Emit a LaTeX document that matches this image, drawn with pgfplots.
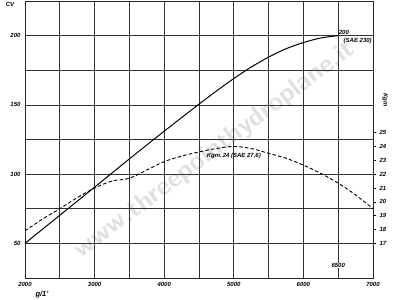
\documentclass[border=0pt]{standalone}
\usepackage{fontspec}
\setmainfont{Liberation Sans}
\usepackage{pgfplots}
\pgfplotsset{compat=1.18}
\begin{document}
\begin{tikzpicture}[x=1pt,y=1pt,font=\fontsize{6}{7}\selectfont\bfseries\itshape]
\path[use as bounding box] (0,0) rectangle (400,300);
\node[rotate=37, text=black!22, opacity=0.55, font=\fontsize{26}{28}\selectfont\bfseries\sffamily] at (215,150) {www.threepointhydroplane.it};
\begin{axis}[
  at={(25pt,22pt)}, anchor=south west,
  scale only axis, width=348pt, height=277pt,
  xmin=2000, xmax=7000, ymin=25, ymax=225,
  xtick={2000,2500,...,7000},
  xticklabels={2000,,3000,,4000,,5000,,6000,,7000},
  ytick={25,50,...,225},
  yticklabels={,50,,100,,150,,200,},
  grid=major,
  major grid style={black!80, line width=0.65pt},
  axis line style={black!85, line width=0.8pt},
  major tick length=0pt,
  /pgf/number format/assume math mode=true,
  xticklabel style={yshift=-1pt},
  yticklabel style={xshift=-1pt},
  clip=false,
]
\addplot[black, line width=1pt, smooth] coordinates {
 (2000,50) (2500,70.3) (3000,90.6) (3500,111) (4000,131) (4500,150.5)
 (4750,160) (5000,169) (5250,177.3) (5500,184.5) (5750,190.5) (6000,195)
 (6250,198.3) (6500,200)};
\node[anchor=south west, inner sep=0.5pt] at (axis cs:6500,200) {200};
\node[anchor=north, inner sep=0.5pt] at (axis cs:6780,199) {(SAE 230)};
\node[fill=white, inner sep=0.8pt] at (axis cs:6500,34) {6500};
\node[inner sep=0.5pt] at (axis cs:5000,113) {Kgm.\,24 (SAE 27,6)};
\end{axis}
\begin{axis}[
  at={(25pt,22pt)}, anchor=south west,
  scale only axis, width=348pt, height=277pt,
  xmin=2000, xmax=7000, ymin=14.5, ymax=34.5,
  axis x line=none, axis y line*=right,
  ytick={17,...,25},
  tick align=outside, major tick length=3pt,
  tick style={black, line width=0.6pt},
  axis line style={draw=none},
  /pgf/number format/assume math mode=true,
]
\addplot[black, line width=0.9pt, dash pattern=on 3.5pt off 2.2pt, smooth] coordinates {
 (2000,17.9) (2250,18.75) (2500,19.5) (2750,20.3) (3000,21.0) (3250,21.5)
 (3500,21.7) (3750,22.3) (4000,22.9) (4250,23.3) (4500,23.6) (4750,23.85)
 (5000,24.0) (5250,23.85) (5500,23.5) (5750,23.15) (6000,22.65) (6250,22.05)
 (6500,21.35) (6750,20.5) (7000,19.5)};
\end{axis}
\node at (10,296) {CV};
\node at (42,5) {\fontsize{7.5}{8}\selectfont g/1'};
\node[rotate=-90] at (385,200) {Kgm};
\end{tikzpicture}
\end{document}
